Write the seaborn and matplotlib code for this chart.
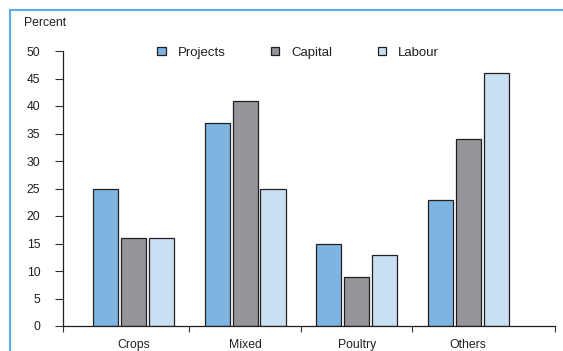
import pandas as pd
import seaborn as sns
import matplotlib.pyplot as plt
from matplotlib.lines import Line2D

# Share of projects, capital and labour by farm sector (percent)
categories = ["Crops", "Mixed", "Poultry", "Others"]
series = ["Projects", "Capital", "Labour"]
projects = [25, 37, 15, 23]
capital = [16, 41, 9, 34]
labour = [16, 25, 13, 46]
colors = ["#7db4e2", "#939598", "#c9dff2"]
y_ticks = [0, 5, 10, 15, 20, 25, 30, 35, 40, 45, 50]

df = pd.DataFrame({
    "Sector": categories * 3,
    "Series": [s for s in series for _ in categories],
    "Percent": projects + capital + labour,
})

sns.set_theme(style="ticks")
plt.rcParams["font.family"] = ["Liberation Sans", "DejaVu Sans"]
ink = "#231f20"

fig = plt.figure(figsize=(5.63, 3.51), dpi=100)
W, H = 563, 351
ax = fig.add_axes([63 / W, 1 - 326 / H, (555 - 63) / W, (326 - 51) / H])

sns.barplot(
    data=df, x="Sector", y="Percent", hue="Series",
    order=categories, hue_order=series,
    palette=dict(zip(series, colors)), saturation=1,
    width=0.75, gap=0.1, edgecolor=ink, linewidth=0.9,
    errorbar=None, ax=ax,
)

# x axis: tick marks at group boundaries, labels centred on groups
x_left, x_right = -0.632, 3.777
ax.set_xlim(x_left, x_right)
ax.set_xticks([x_left, 0.5, 1.5, 2.5, x_right])
ax.set_xticklabels([])
ax.set_xticks(range(len(categories)), minor=True)
ax.set_xticklabels(categories, minor=True)
ax.tick_params(axis="x", which="major", length=4.3, width=0.8, color="#333333", direction="out")
ax.tick_params(axis="x", which="minor", length=0, pad=9.5, labelsize=8.8, labelcolor=ink)

ax.set_ylim(0, 50)
ax.set_yticks(y_ticks)
ax.tick_params(axis="y", length=5.8, width=0.8, color="#333333", pad=10.5,
               labelsize=8.8, labelcolor=ink)

ax.set_xlabel("")
ax.set_ylabel("")
sns.despine(ax=ax)
for side in ("left", "bottom"):
    ax.spines[side].set_color(ink)
    ax.spines[side].set_linewidth(0.9)

handles, labels = ax.get_legend_handles_labels()
ax.legend(
    handles, labels, ncol=3, loc="center left",
    bbox_to_anchor=((157 - 63) / (555 - 63), 0.994),
    frameon=False, fontsize=9.5, labelcolor=ink,
    handlelength=0.65, handleheight=0.65, handletextpad=0.9,
    columnspacing=3.45, borderpad=0, borderaxespad=0,
)

fig.text(24 / W, 1 - 22.5 / H, "Percent", fontsize=8.8, color=ink, va="center", ha="left")

# light blue frame along the top and left edges
frame_y = 1 - 10 / H
frame_x = 10 / W
fig.add_artist(Line2D([frame_x, 1], [frame_y, frame_y], color="#5aaee6", lw=1.5))
fig.add_artist(Line2D([frame_x, frame_x], [0, frame_y], color="#5aaee6", lw=1.5))

fig.savefig("out.png", dpi=100)
